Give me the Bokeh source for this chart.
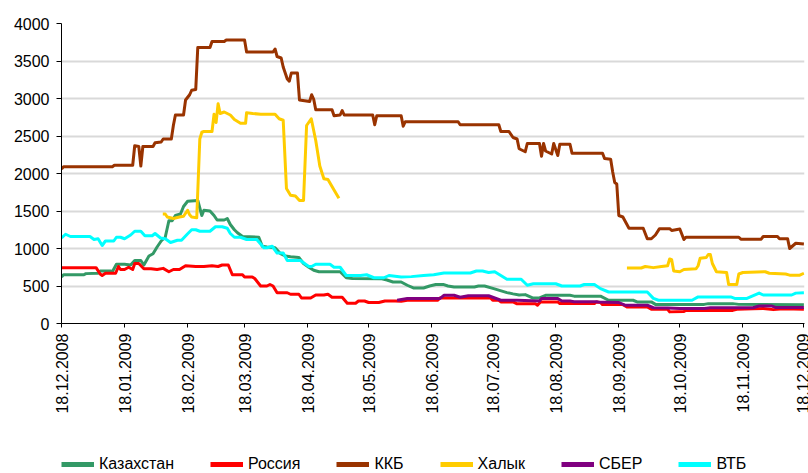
import numpy as np
import pandas as pd
from bokeh.plotting import figure
from bokeh.layouts import column
from bokeh.models import Range1d, FixedTicker, Legend, LegendItem
from bokeh.embed import file_html
from bokeh.resources import INLINE

# ---------------- data (day offsets from 18.12.2008, values) ----------------
START = pd.Timestamp("2008-12-18")
tick_labels = ["18.12.2008", "18.01.2009", "18.02.2009", "18.03.2009", "18.04.2009",
               "18.05.2009", "18.06.2009", "18.07.2009", "18.08.2009", "18.09.2009",
               "18.10.2009", "18.11.2009", "18.12.2009"]
y_ticks = [0, 500, 1000, 1500, 2000, 2500, 3000, 3500, 4000]

names = ["Казахстан", "Россия", "ККБ", "Халык", "СБЕР", "ВТБ"]
colors = ["#339966", "#FF0000", "#993300", "#FFCC00", "#800080", "#00FFFF"]

kz_d = [0, 1, 11, 12, 18, 19, 24, 25, 27, 31,
        34, 36, 39, 40.5, 43, 45, 47, 49, 51, 52.8,
        54.4, 56, 58.5, 60, 62, 67, 68.4, 69, 70, 73,
        75, 76.5, 80, 81.5, 83, 85, 86.5, 89, 97, 98.7,
        101, 105, 107.7, 110, 112.6, 116.7, 119, 121.6, 124, 126.6,
        137, 140, 143, 157, 160, 163, 167, 170, 173, 178,
        181, 184, 188, 190, 193, 203, 205, 208, 212.5, 219,
        222, 225, 228, 231.6, 235, 238, 250, 252, 265, 269,
        281, 283, 290, 292, 316, 318, 330, 333, 365]
kz_v = [620, 650, 650, 665, 670, 700, 700, 690, 790, 790,
        780, 840, 840, 780, 900, 930, 1020, 1100, 1150, 1370,
        1370, 1440, 1460, 1560, 1630, 1640, 1500, 1440, 1510, 1500,
        1440, 1380, 1380, 1400, 1320, 1250, 1210, 1160, 1150, 1030,
        1020, 1010, 930, 900, 890, 880, 800, 750, 710, 690,
        690, 610, 600, 598, 580, 553, 553, 510, 474, 474,
        500, 519, 519, 500, 487, 487, 500, 500, 465, 412,
        395, 380, 385, 341, 341, 376, 376, 365, 365, 310,
        310, 288, 288, 255, 255, 265, 265, 255, 250]

rus_d = [0, 17, 19, 20, 21.6, 26.6, 28, 29, 31, 33,
         35, 36, 38, 40.5, 44, 47, 50, 52.8, 55, 58,
         61, 66, 70, 74, 77, 79, 82, 84, 89, 90,
         93.8, 95, 97.9, 101, 102.5, 104, 106, 111, 112.6, 116.7,
         118, 122.5, 125, 129, 131, 133, 138, 140.5, 144.6, 146,
         149, 151, 156, 159, 164, 167, 170, 185, 186, 211,
         212, 215, 216, 222, 224, 233, 234, 235.5, 244, 245,
         262, 263, 265, 266, 276, 278, 288, 290, 298, 299,
         306, 307, 330, 332, 340, 345, 350, 355, 365]
rus_v = [745, 745, 660, 640, 670, 670, 760, 720, 720, 750,
         720, 800, 800, 730, 730, 720, 735, 690, 720, 720,
         770, 760, 760, 770, 760, 780, 780, 650, 650, 620,
         620, 600, 500, 500, 520, 500, 410, 410, 390, 390,
         340, 340, 380, 380, 390, 350, 350, 270, 270, 300,
         300, 280, 280, 300, 300, 297, 310, 310, 340, 340,
         310, 310, 288, 288, 262, 262, 244, 288, 288, 266,
         266, 288, 280, 252, 252, 221, 221, 190, 190, 155,
         160, 175, 175, 190, 195, 200, 185, 195, 190]

kkb_d = [0, 1, 25, 26, 35, 36, 38, 39, 40, 45,
         46, 49, 50, 54, 55, 56, 60, 61, 63, 64,
         66, 67, 73, 74, 80, 81, 90, 91, 104, 105,
         106, 108, 109, 111, 112, 113, 116, 117, 122, 123,
         124, 125, 133, 134, 137, 138, 139, 153, 154, 155,
         167, 168, 169, 195, 196, 215, 216, 220, 222, 224,
         225, 228, 229, 235, 236, 237, 238, 241, 242, 244,
         245, 250, 251, 266, 267, 270, 271, 272, 273, 274,
         276, 279, 286, 288, 290, 292, 294, 299, 300, 304,
         306, 307, 333, 334, 344, 345, 352, 353, 357, 358,
         361, 365]
kkb_v = [2060, 2090, 2090, 2110, 2110, 2370, 2360, 2100, 2360, 2360,
         2410, 2420, 2460, 2460, 2640, 2780, 2780, 2980, 3050, 3110,
         3120, 3680, 3680, 3760, 3760, 3780, 3780, 3620, 3620, 3660,
         3560, 3540, 3420, 3260, 3230, 3340, 3340, 2980, 2960, 3050,
         2990, 2850, 2850, 2770, 2780, 2840, 2780, 2780, 2650, 2770,
         2770, 2630, 2690, 2690, 2650, 2650, 2560, 2560, 2480, 2460,
         2330, 2290, 2400, 2400, 2230, 2400, 2300, 2260, 2400, 2240,
         2390, 2390, 2270, 2270, 2200, 2190, 2020, 1880, 1860, 1440,
         1420, 1270, 1270, 1130, 1130, 1180, 1265, 1265, 1240, 1260,
         1120, 1150, 1150, 1125, 1125, 1160, 1160, 1130, 1130, 1000,
         1070, 1060]

hal1_d = [49.8, 51, 52, 55, 58, 60, 62, 63, 64, 66.5,
          68, 69, 70, 74, 75, 76, 77, 78, 80, 83,
          85, 88, 90.5, 91, 94, 98, 105, 107, 109, 110.6,
          112.6, 115, 117, 119, 120.5, 122.8, 125, 127, 129, 131,
          134, 136.4]
hal1_v = [1460, 1460, 1420, 1400, 1420, 1430, 1510, 1450, 1420, 1410,
          2460, 2550, 2560, 2560, 2790, 2680, 2930, 2800, 2820, 2780,
          2720, 2670, 2670, 2810, 2800, 2790, 2790, 2730, 2710, 1800,
          1710, 1700, 1640, 1640, 2640, 2730, 2440, 2100, 1930, 1920,
          1780, 1670]
hal2_d = [278, 285, 287, 291, 295, 298, 299, 300, 301, 304,
          306, 312, 313, 314, 317, 318, 319, 320, 322, 327,
          328, 332, 333, 335, 346, 348, 356, 358, 363, 365]
hal2_v = [740, 740, 760, 745, 760, 770, 860, 850, 700, 690,
          720, 730, 770, 870, 880, 920, 920, 800, 690, 680,
          520, 520, 660, 680, 690, 670, 660, 645, 645, 670]

sb_d = [165, 170, 186, 188, 193, 196, 200, 210, 213, 216,
        224, 235, 236, 244, 246, 250, 252, 263, 264, 274,
        277, 288, 291, 298, 304, 316, 319, 340, 343, 349,
        351, 365]
sb_v = [310, 332, 332, 376, 376, 350, 370, 370, 340, 310,
        310, 300, 332, 332, 300, 300, 290, 290, 288, 280,
        244, 244, 210, 208, 199, 199, 210, 210, 234, 234,
        215, 215]

vtb_d = [0, 2, 4.4, 14, 16, 18, 20, 21.6, 25.7, 27,
         29, 31, 34, 36, 39, 41, 44.6, 46, 48.7, 51,
         53.6, 57, 59, 61.8, 64, 66, 68, 73, 75.7, 79,
         81.5, 83, 85, 88, 91, 96, 99.5, 101, 103.6, 106,
         109, 111, 117.5, 120, 121.6, 123, 125, 132, 134, 137,
         140, 147, 150, 153.6, 158.5, 161, 167, 172, 178, 183,
         188, 201, 204, 207, 210, 213, 216, 219, 226, 229,
         232, 243, 246, 255, 257, 262, 265, 269, 288, 291,
         293.5, 310, 313, 329, 331, 337, 343, 345, 359, 361,
         365]
vtb_v = [1140, 1190, 1160, 1160, 1120, 1130, 1040, 1100, 1100, 1150,
         1150, 1130, 1180, 1230, 1230, 1170, 1170, 1200, 1140, 1130,
         1080, 1110, 1110, 1190, 1250, 1250, 1230, 1230, 1290, 1290,
         1270, 1200, 1150, 1150, 1120, 1120, 1010, 1010, 1030, 940,
         940, 840, 840, 790, 760, 760, 790, 790, 750, 750,
         640, 640, 650, 610, 610, 640, 620, 625, 640, 650,
         673, 673, 700, 700, 680, 690, 640, 590, 590, 510,
         530, 530, 500, 500, 520, 520, 465, 420, 420, 335,
         310, 310, 355, 355, 335, 335, 405, 380, 380, 405,
         410]

# ---------------- main chart ----------------
tick_days = [int((pd.to_datetime(t, format="%d.%m.%Y") - START).days) for t in tick_labels]

p = figure(width=808, height=423, output_backend="svg", toolbar_location=None,
           x_range=Range1d(0, 365.3), y_range=Range1d(0, 4000),
           min_border_left=61, min_border_right=4, min_border_top=23, min_border_bottom=100)
p.background_fill_color = "white"
p.border_fill_color = "white"
p.outline_line_color = None

p.xgrid.visible = False
p.ygrid.grid_line_color = "#d9d9d9"
p.ygrid.grid_line_width = 2

p.yaxis.ticker = FixedTicker(ticks=y_ticks)
p.xaxis.ticker = FixedTicker(ticks=tick_days)
p.xaxis.major_label_overrides = {d: lab for d, lab in zip(tick_days, tick_labels)}
p.xaxis.major_label_orientation = np.pi / 2

for ax in (p.xaxis[0], p.yaxis[0]):
    ax.axis_line_color = "black"
    ax.axis_line_width = 1
    ax.major_tick_line_color = "black"
    ax.major_tick_in = 0
    ax.minor_tick_in = 0
    ax.minor_tick_out = 0
    ax.major_label_text_font = "Liberation Sans"
    ax.major_label_text_font_size = "16px"
    ax.major_label_text_color = "black"
p.yaxis.major_tick_out = 5
p.yaxis.major_label_standoff = 7
p.xaxis.major_tick_out = 4
p.xaxis.major_label_standoff = 6

hal_d = hal1_d + [np.nan] + hal2_d
hal_v = hal1_v + [np.nan] + hal2_v
series = [(kz_d, kz_v), (rus_d, rus_v), (kkb_d, kkb_v), (hal_d, hal_v), (sb_d, sb_v), (vtb_d, vtb_v)]

for col, (d, v) in zip(colors, series):
    p.line(np.array(d, dtype=float), np.array(v, dtype=float), line_color=col,
           line_width=3, line_join="round")

# ---------------- legend strip (below the chart) ----------------
lg = figure(width=808, height=50, output_backend="svg", toolbar_location=None,
            x_range=Range1d(0, 1), y_range=Range1d(0, 1),
            x_axis_location=None, y_axis_location=None,
            min_border_left=0, min_border_right=0, min_border_top=0, min_border_bottom=0)
lg.outline_line_color = None
lg.grid.visible = False
items = []
for name, col in zip(names, colors):
    r = lg.line([np.nan], [np.nan], line_color=col, line_width=5)
    items.append(LegendItem(label=name, renderers=[r]))

legend = Legend(items=items, orientation="horizontal", location=(0, 0),
                border_line_color=None, background_fill_alpha=0, padding=0, margin=0,
                spacing=36, glyph_width=33, glyph_height=16, label_height=16,
                label_standoff=5, label_text_font="Liberation Sans",
                label_text_font_size="16px", label_text_color="black")
lg.add_layout(legend)

layout = column(p, lg, spacing=0)
open("out.html", "w").write(file_html(layout, INLINE))
